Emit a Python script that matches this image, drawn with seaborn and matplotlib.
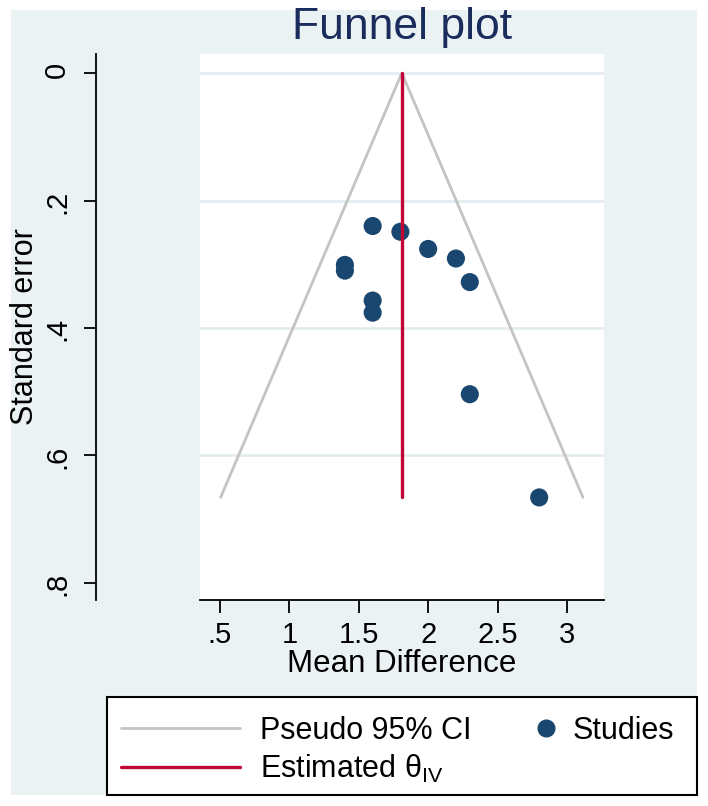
import matplotlib
matplotlib.use('Agg')
import matplotlib.pyplot as plt
import seaborn as sns
import pandas as pd
from matplotlib.lines import Line2D
from matplotlib.patches import Rectangle

# données
study_md = [1.6, 1.8, 2.0, 2.2, 2.3, 1.4, 1.4, 1.6, 1.6, 2.3, 2.8]
study_se = [0.240, 0.249, 0.276, 0.291, 0.328, 0.301, 0.310, 0.357, 0.376, 0.504, 0.666]
theta_iv = 1.81

x_ticks = [0.5, 1, 1.5, 2, 2.5, 3]
x_labels = ['.5', '1', '1.5', '2', '2.5', '3']
y_ticks = [0, 0.2, 0.4, 0.6, 0.8]
y_labels = ['0', '.2', '.4', '.6', '.8']
grid_ticks = [0, 0.2, 0.4, 0.6]

df = pd.DataFrame({'md': study_md, 'se': study_se})

# couleurs style Stata s2color
bg_col = '#EAF2F3'
dot_col = '#1A476F'
red_col = '#C10534'
ci_col = '#C4C4C4'

sns.set_style('white')
plt.rcParams['font.family'] = ['Liberation Sans', 'DejaVu Sans']
plt.rcParams['mathtext.fontset'] = 'custom'
plt.rcParams['mathtext.rm'] = 'Liberation Sans'
plt.rcParams['text.color'] = 'black'
plt.rcParams['axes.labelcolor'] = 'black'
plt.rcParams['xtick.color'] = 'black'
plt.rcParams['ytick.color'] = 'black'

W, H = 708, 806
fig = plt.figure(figsize=(W / 100, H / 100), dpi=100)
fig.patch.set_facecolor('white')
fig.patches.append(Rectangle((11 / W, 1 - 795 / H), 686 / W, 785 / H,
                             transform=fig.transFigure, facecolor=bg_col,
                             edgecolor='none', zorder=-5))

ax = fig.add_axes([200 / W, 1 - 600 / H, 404 / W, 546 / H])
ax.set_facecolor('white')

# lignes de grille horizontales
for yt in grid_ticks:
    ax.axhline(yt, color='#E3EDF0', lw=2, zorder=1)

# pseudo IC 95%
se_max = max(study_se)
ax.plot([theta_iv - 1.96 * se_max, theta_iv, theta_iv + 1.96 * se_max],
        [se_max, 0, se_max], color=ci_col, lw=2, zorder=2)

sns.scatterplot(data=df, x='md', y='se', ax=ax, color=dot_col, s=170,
                edgecolor='none', zorder=3, legend=False)

ax.plot([theta_iv, theta_iv], [0, se_max], color=red_col, lw=2.4, zorder=4)

ax.set_xlim(0.356, 3.267)
ax.set_ylim(0.827, -0.030)

ax.set_xticks(x_ticks)
ax.set_xticklabels(x_labels)
ax.set_yticks(y_ticks)
ax.set_yticklabels(y_labels)
ax.tick_params(axis='both', labelsize=21, length=9, width=1.3, color='black',
               labelcolor='black', direction='out', bottom=True, left=True)
ax.tick_params(axis='x', pad=6)
ax.tick_params(axis='y', pad=9, labelrotation=90)
for lab in ax.get_yticklabels():
    lab.set_va('center')

for s in ['top', 'right']:
    ax.spines[s].set_visible(False)
ax.spines['left'].set_position(('outward', 74.9))
ax.spines['left'].set_linewidth(1.3)
ax.spines['bottom'].set_linewidth(1.3)
ax.spines['left'].set_color('black')
ax.spines['bottom'].set_color('black')

ax.set_xlabel('Mean Difference', fontsize=22.5, labelpad=0)
ax.set_ylabel('Standard error', fontsize=22, labelpad=2)

fig.text(402 / W, 1 - 28 / H, 'Funnel plot', fontsize=32, color='#1A2C5B',
         ha='center', va='center')

# cadre de la légende
fig.patches.append(Rectangle((107 / W, 1 - 795 / H), 590 / W, 98 / H,
                             transform=fig.transFigure, facecolor='white',
                             edgecolor='black', lw=1.5, zorder=1))

h_ci = Line2D([], [], color=ci_col, lw=2)
h_est = Line2D([], [], color=red_col, lw=2.4)
h_dot = Line2D([], [], marker='o', color=dot_col, markersize=12, linestyle='none')

fig.legend([h_ci, h_est], ['Pseudo 95% CI', 'Estimated θ$_{\\mathrm{IV}}$'],
           loc='upper left', bbox_to_anchor=(107 / W, 1 - 702 / H),
           borderaxespad=0, borderpad=0.45, frameon=False, fontsize=22,
           handlelength=3.9, handletextpad=0.65, labelspacing=0.22)
fig.legend([h_dot], ['Studies'],
           loc='upper left', bbox_to_anchor=(520 / W, 1 - 702 / H),
           borderaxespad=0, borderpad=0.45, frameon=False, fontsize=22,
           handlelength=0.8, handletextpad=0.48)

fig.savefig('out.png', dpi=100)
